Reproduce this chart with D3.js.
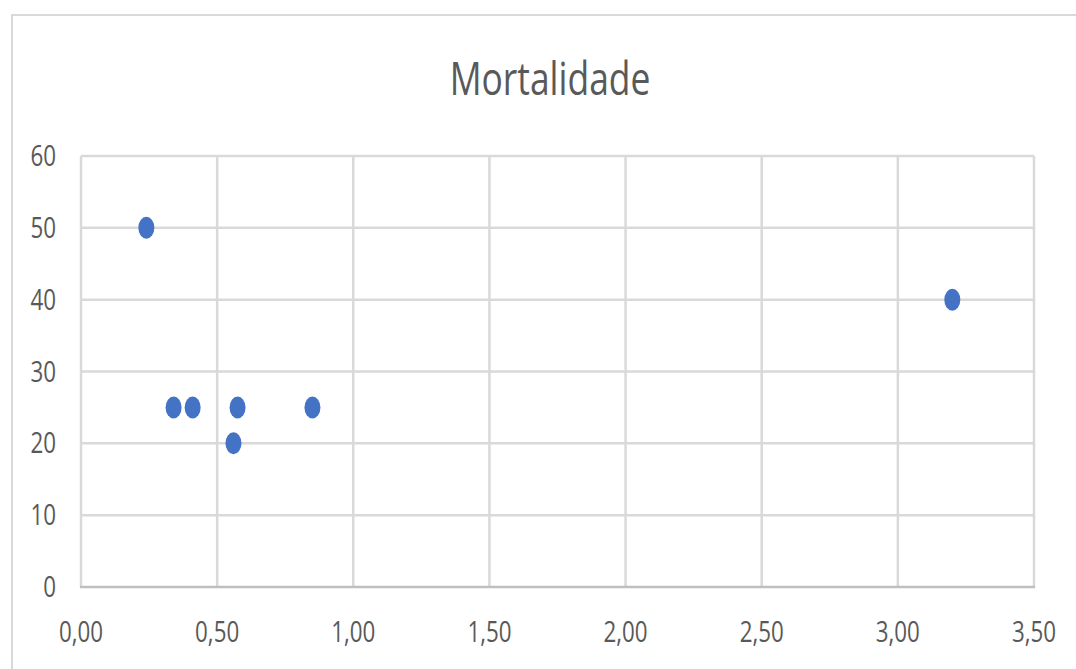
<!DOCTYPE html>
<html>
<head>
<meta charset="utf-8">
<script src="https://cdn.jsdelivr.net/npm/d3@7"></script>
<style>
  html, body { margin: 0; padding: 0; background: #ffffff; }
  svg { display: block; }
  text { font-family: "Open Sans", sans-serif; fill: #595959; }
</style>
</head>
<body>
<svg id="chart" width="1076" height="669"></svg>
<script>
// Data
const title = "Mortalidade";
const xValues = [0.24, 0.34, 0.41, 0.575, 0.56, 0.85, 3.20];
const yValues = [50, 25, 25, 25, 20, 25, 40];
const xTicks = [0, 0.5, 1.0, 1.5, 2.0, 2.5, 3.0, 3.5];
const yTicks = [0, 10, 20, 30, 40, 50, 60];

const W = 1076, H = 669;
const svg = d3.select("#chart");
const sx = 0.77; // horizontal text compression

// chart border
svg.append("path")
  .attr("d", "M12," + H + " L12,15 L" + W + ",15")
  .attr("fill", "none").attr("stroke", "#d9d9d9").attr("stroke-width", 2);

const x = d3.scaleLinear().domain([0, 3.5]).range([81, 1034]);
const y = d3.scaleLinear().domain([0, 60]).range([587, 156]);

const fmt = v => d3.format(".2f")(v).replace(".", ",");

// vertical gridlines
svg.append("g").selectAll("line").data(xTicks).join("line")
  .attr("x1", d => x(d)).attr("x2", d => x(d))
  .attr("y1", y(60)).attr("y2", y(0))
  .attr("stroke", "#d9d9d9").attr("stroke-width", 2.5);

// horizontal gridlines
svg.append("g").selectAll("line").data(yTicks.filter(d => d !== 0)).join("line")
  .attr("x1", x(0)).attr("x2", x(3.5))
  .attr("y1", d => y(d)).attr("y2", d => y(d))
  .attr("stroke", "#d9d9d9").attr("stroke-width", 2.5);

// x axis line
svg.append("line")
  .attr("x1", x(0) - 1).attr("x2", x(3.5) + 1)
  .attr("y1", y(0)).attr("y2", y(0))
  .attr("stroke", "#bfbfbf").attr("stroke-width", 2.5);

// y tick labels
svg.append("g").selectAll("text").data(yTicks).join("text")
  .attr("transform", d => `translate(56,${y(d) + 10}) scale(${sx},1)`)
  .attr("text-anchor", "end")
  .attr("font-size", 29)
  .text(d => d);

// x tick labels
svg.append("g").selectAll("text").data(xTicks).join("text")
  .attr("transform", d => `translate(${x(d)},642) scale(${sx},1)`)
  .attr("text-anchor", "middle")
  .attr("font-size", 29)
  .text(d => fmt(d));

// title
svg.append("text")
  .attr("transform", `translate(550,95) scale(${sx},1)`)
  .attr("text-anchor", "middle")
  .attr("font-size", 46)
  .text(title);

// points
const pts = xValues.map((v, i) => ({ x: v, y: yValues[i] }));
svg.append("g").selectAll("ellipse").data(pts).join("ellipse")
  .attr("cx", d => x(d.x)).attr("cy", d => y(d.y))
  .attr("rx", 8).attr("ry", 11)
  .attr("fill", "#4472C4");
</script>
</body>
</html>
